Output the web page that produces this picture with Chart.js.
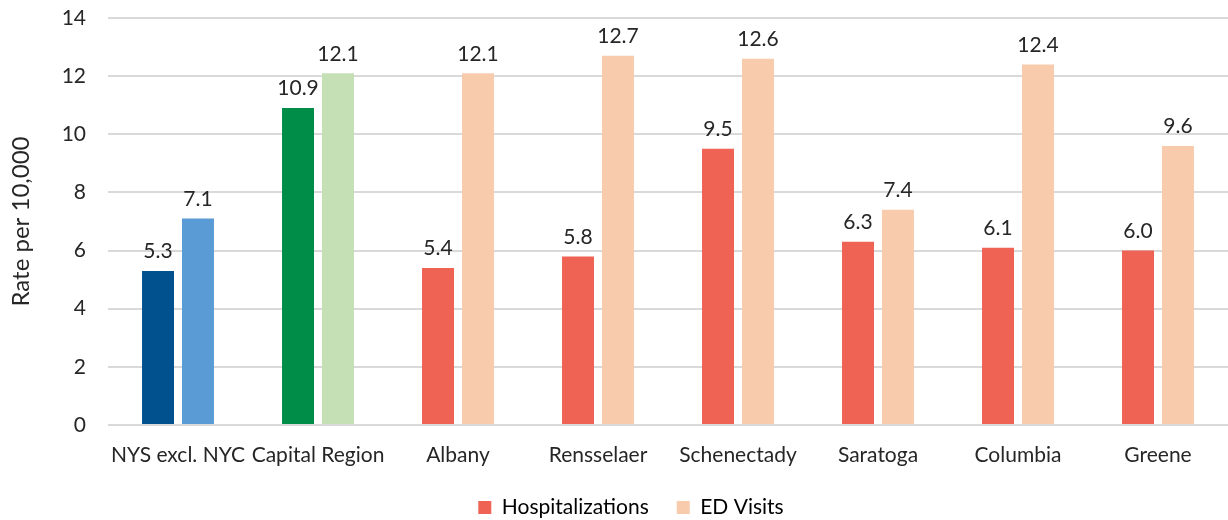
<!DOCTYPE html>
<html>
<head>
<meta charset="utf-8">
<script src="https://cdn.jsdelivr.net/npm/chart.js@4/dist/chart.umd.min.js"></script>
<style>
  html, body { margin: 0; padding: 0; background: #fff; }
  #wrap { width: 1228px; height: 520px; }
</style>
</head>
<body>
<div id="wrap"><canvas id="c" width="1228" height="520"></canvas></div>
<script>
// Rates per 10,000 by area
const areas = ["NYS excl. NYC", "Capital Region", "Albany", "Rensselaer", "Schenectady", "Saratoga", "Columbia", "Greene"];
const hospitalizations = [5.3, 10.9, 5.4, 5.8, 9.5, 6.3, 6.1, 6.0];
const edVisits = [7.1, 12.1, 12.1, 12.7, 12.6, 7.4, 12.4, 9.6];
const yTicks = [0, 2, 4, 6, 8, 10, 12, 14];

// Bar colours: state and region get their own pair, counties share one
const hospColors = ["#02518f", "#008d48", "#ef6355", "#ef6355", "#ef6355", "#ef6355", "#ef6355", "#ef6355"];
const edColors = ["#5b9bd5", "#c5e0b4", "#f8cbad", "#f8cbad", "#f8cbad", "#f8cbad", "#f8cbad", "#f8cbad"];

const FONT = "Lato, 'Open Sans', sans-serif";
const TEXT = "#262626";
const SIZE = 21;

// Writes each bar's value above it
const valueLabels = {
  id: "valueLabels",
  afterDatasetsDraw(chart) {
    const ctx = chart.ctx;
    ctx.save();
    ctx.font = SIZE + "px " + FONT;
    ctx.fillStyle = TEXT;
    ctx.textAlign = "center";
    ctx.textBaseline = "bottom";
    chart.data.datasets.forEach((ds, i) => {
      chart.getDatasetMeta(i).data.forEach((bar, j) => {
        ctx.fillText(ds.data[j].toFixed(1), bar.x, bar.y - 9);
      });
    });
    ctx.restore();
  }
};

// Nudges the legend a little to the right of the canvas centre
const legendShift = {
  id: "legendShift",
  afterLayout(chart) {
    if (chart.legend) {
      chart.legend.left += 17;
      chart.legend.right += 17;
    }
  }
};

new Chart(document.getElementById("c"), {
  type: "bar",
  data: {
    labels: areas,
    datasets: [
      { label: "Hospitalizations", data: hospitalizations, backgroundColor: hospColors, legendColor: "#ef6355",
        barPercentage: 0.8, categoryPercentage: 0.571 },
      { label: "ED Visits", data: edVisits, backgroundColor: edColors, legendColor: "#f8cbad",
        barPercentage: 0.8, categoryPercentage: 0.571 }
    ]
  },
  options: {
    responsive: false,
    animation: false,
    layout: { padding: { top: 18, right: 0, left: 0, bottom: -8 } },
    plugins: {
      tooltip: { enabled: false },
      legend: {
        position: "bottom",
        labels: {
          font: { family: FONT, size: SIZE },
          color: TEXT,
          boxWidth: 13,
          boxHeight: 13,
          padding: 28,
          generateLabels(chart) {
            return chart.data.datasets.map((ds, i) => ({
              text: ds.label,
              fillStyle: ds.legendColor,
              strokeStyle: ds.legendColor,
              lineWidth: 0,
              datasetIndex: i,
              hidden: false
            }));
          }
        }
      }
    },
    scales: {
      x: {
        grid: { display: false },
        border: { display: false },
        ticks: { font: { family: FONT, size: SIZE }, color: TEXT, padding: 10, maxRotation: 0, autoSkip: false },
        afterFit(scale) { scale.height = 44; }
      },
      y: {
        min: 0,
        max: 14,
        afterBuildTicks(scale) { scale.ticks = yTicks.map(v => ({ value: v })); },
        grid: { color: "#d9d9d9", lineWidth: 2, drawTicks: false },
        border: { display: false },
        ticks: { font: { family: FONT, size: SIZE }, color: TEXT, padding: 22 },
        title: { display: true, text: "Rate per 10,000", font: { family: FONT, size: 24 }, color: TEXT, padding: { top: 7, bottom: 0 } },
        afterFit(scale) {
          scale.width = 108;
          scale.paddingTop = 0;
          scale.paddingBottom = 0;
        }
      }
    }
  },
  plugins: [valueLabels, legendShift]
});
</script>
</body>
</html>
